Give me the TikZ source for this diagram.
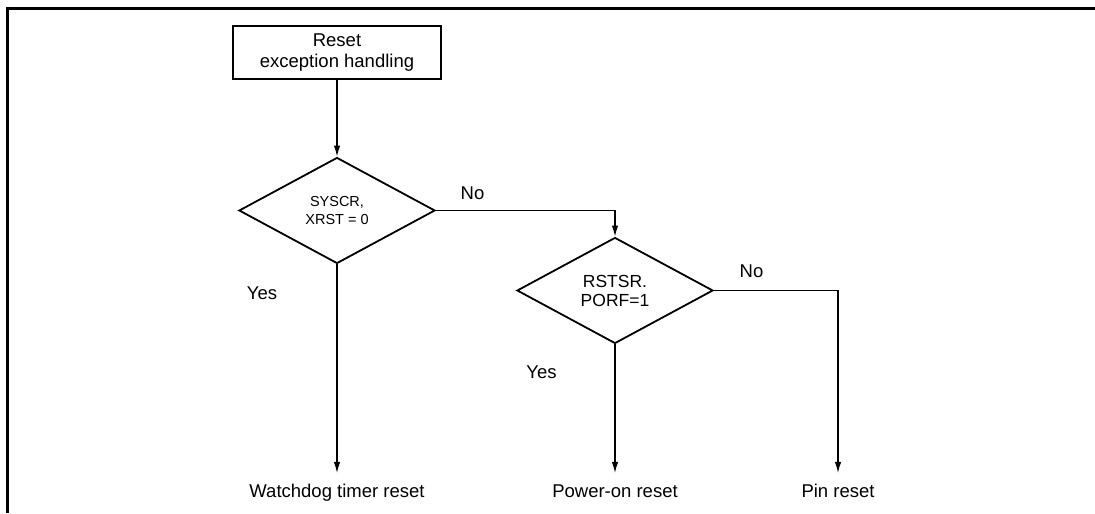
\documentclass[tikz,border=0pt]{standalone}
\usepackage{fontspec}
\setmainfont{Liberation Sans}
\usetikzlibrary{arrows.meta,shapes.geometric}
\begin{document}
\begin{tikzpicture}[
  x=0.5pt,
  y=0.5pt,
  line join=miter,
  frameline/.style={draw=black,line width=1.5pt},
  startbox/.style={rectangle,draw=black,line width=1pt,inner sep=0pt,
    minimum width=104pt,minimum height=26.5pt,align=center,
    font=\fontsize{9.25}{10.5}\selectfont},
  test/.style={diamond,draw=black,line width=0.9pt,inner sep=0pt,
    minimum width=98pt,minimum height=53pt,align=center},
  outcome/.style={inner sep=0pt,outer ysep=5pt,anchor=base,
    text height=7pt,text depth=2pt,font=\fontsize{9.25}{10.5}\selectfont},
  answer/.style={inner sep=0pt,font=\fontsize{9.25}{10.5}\selectfont},
  flow/.style={draw=black,line width=0.6pt,
    -{Latex[length=5.5pt,width=3.2pt]}}
]
  \useasboundingbox (0,0) rectangle (1095,513);
  % Frame (top and left only).
  \draw[frameline] (1095,504) -- (7,504) -- (7,0);

  % Start and the two tests.
  \node[startbox] (start) at (337,460.5) {Reset\\exception handling};
  \node[test,font=\fontsize{7.25}{9}\selectfont] (xrst) at (337,302.5)
    {SYSCR,\\XRST = 0};
  \node[test,font=\fontsize{8.75}{9.5}\selectfont] (porf) at (615,222.5)
    {RSTSR.\\PORF=1};

  % Outcomes.
  \node[outcome] (wdt) at (337,16) {Watchdog timer reset};
  \node[outcome] (por) at (615,16) {Power-on reset};
  \node[outcome] (pin) at (838,16) {Pin reset};

  % Connectors.
  \draw[flow] (start) -- (xrst);
  \draw[flow] (xrst.east) -| (porf.north);
  \draw[flow] (xrst.south) -- (wdt.north);
  \draw[flow] (porf.south) -- (por.north);
  \draw[flow] (porf.east) -| (pin.north);

  % Branch labels.
  \node[answer] (no1) at (472.5,320) {No};
  \node[answer] (yes1) at (262,219.5) {Yes};
  \node[answer] (no2) at (751.5,241.5) {No};
  \node[answer] (yes2) at (541.5,140.5) {Yes};
\end{tikzpicture}
\end{document}
